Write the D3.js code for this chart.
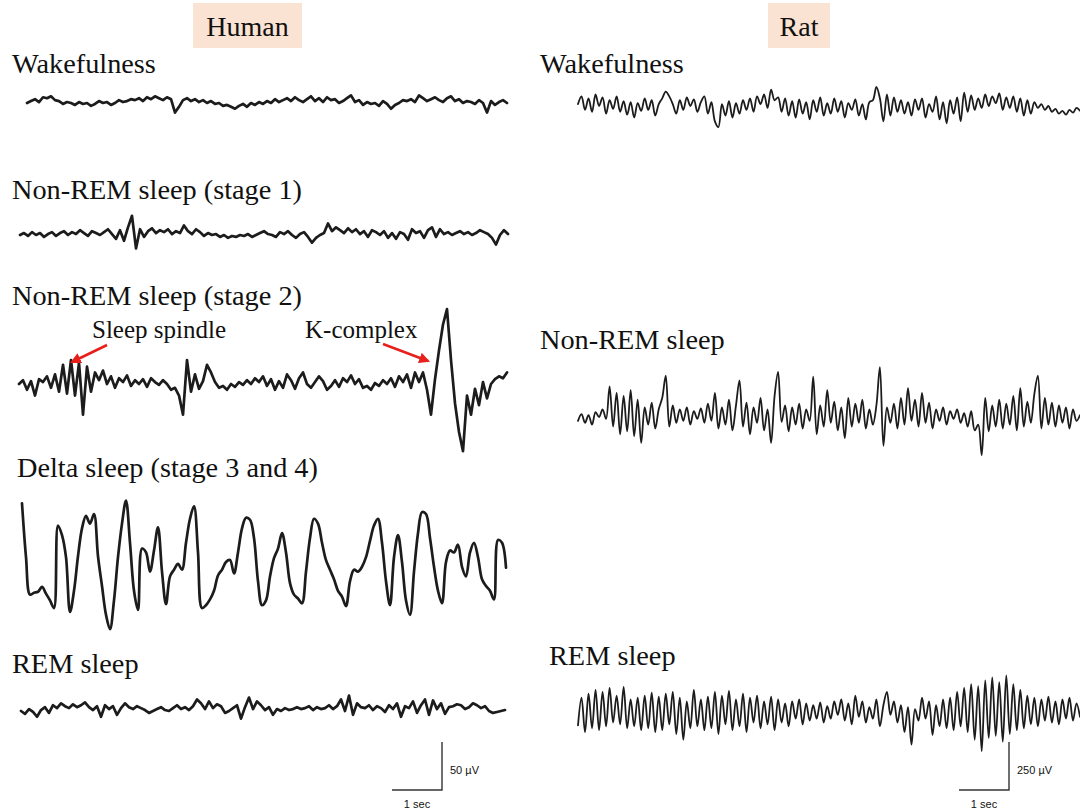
<!DOCTYPE html>
<html>
<head>
<meta charset="utf-8">
<script src="https://d3js.org/d3.v7.min.js"></script>
<style>
  body { margin: 0; background: #fff; }
  svg { display: block; }
</style>
</head>
<body>
<svg id="chart" width="1080" height="809"></svg>
<script>
// EEG traces, in µV (up is positive), equal time steps

// Human
var humanWake = [0, 2, 4, 1, 6, 5, 7, 3, 2, -1,
  1, 0, -2, 1, -1, 0, -3, -1, 2, 0,
  1, -2, 0, 3, 1, 2, 4, 3, 5, 2,
  6, 4, 7, 5, 3, 6, 4, -10, -4, 3,
  5, 2, 4, 1, 3, 0, 2, -1, 0, -3,
  -2, -4, -6, -3, -1, -4, 0, -2, 1, -1,
  2, 0, 4, 1, 3, 5, 2, 6, 3, 1,
  4, 7, 2, 5, 1, 6, 3, 4, 0, 2,
  5, 8, 1, 3, -2, 1, -1, 0, -3, 2,
  -1, -6, -2, 0, 3, 2, 4, 1, 8, 5,
  2, 4, 6, 3, 1, 5, 7, 2, 4, 0,
  2, 1, -1, 3, 0, -10, 2, -2, 1, 3, 0];

var humanStage1 = [0, 2, -1, 3, 0, 2, -2, 1, 3, -1,
  2, 4, 0, 3, 1, 5, 2, -1, 4, 2,
  0, 3, 6, 1, -4, 5, -6, 8, 20, -14,
  6, -2, 4, 7, 2, 5, 3, 6, 1, 4,
  2, 10, 4, 1, 6, 3, -1, 2, 0, 1,
  -2, 0, -3, -1, -2, 0, -1, 1, -2, 0,
  2, 4, 1, 0, -2, 3, 1, 4, 0, -3,
  1, 3, -2, -8, -3, 0, 2, 12, 4, 8,
  5, 2, 7, 3, 6, 1, 4, -2, 5, 3,
  0, 4, -3, 2, -4, 3, 1, -5, 6, 2,
  4, -3, 5, 8, -2, 6, 1, 3, 0, 2,
  4, 1, 3, 0, 2, 5, 3, 1, -3, -10, 0, 5, 1];

var humanStage2 = [0, 4, -6, 3, -12, 5, 2, 8, -4, 10,
  -8, 20, -10, 25, -12, 22, -32, 18, -8, 12,
  4, 14, 0, 8, -4, 6, 2, 9, -2, 4,
  0, 5, -3, 6, 2, -1, 4, 0, -6, -4,
  -12, -32, 25, -8, 10, -5, 3, 20, 12, 2,
  -4, -2, -6, 0, -3, 2, -1, 4, 0, 6,
  2, 8, -2, 5, -6, 3, -4, 10, 4, -5,
  6, 12, 0, -4, 2, 8, 3, -6, -2, 4,
  -3, 6, 2, 9, 0, 5, -4, -2, -6, 1,
  -2, 4, 0, 6, -3, 8, 2, 10, -4, 12,
  2, 12, -6, -32, 5, 35, 62, 78, 25, -20,
  -50, -70, -12, -32, -5, -22, 2, -15, 0, 5, 8, 6, 12];

var humanDelta = [61, 5, -34, -32, -31, -26, -33, -40, -48, 38,
  28, 5, -52, -30, 6, 35, 48, 40, 50, 6,
  -25, -55, -70, -40, 5, 40, 64, 20, -30, -50,
  14, 10, -10, 12, 36, -10, -44, -15, -8, -2,
  -8, 20, 45, 58, 10, -48, -45, -39, -30, -14,
  -8, 0, 2, -12, 10, 35, 46, 44, 25, -20,
  -45, -40, -15, 4, 14, 30, 10, -22, -34, -38,
  -43, -10, 25, 45, 40, 20, 2, -8, -18, -30,
  -36, -46, -20, -8, -10, -5, 5, 22, 38, 45,
  20, -20, -45, 5, 28, 0, -40, -55, -10, 30,
  52, 50, 25, -5, -30, -43, 0, 12, 10, 18,
  -5, -15, 10, 20, 5, -18, -25, -30, -39, 23, 20, -6];

var humanRem = [0, -3, 2, -1, -6, 1, 4, -2, 6, 3,
  8, 5, 3, 7, 4, 6, 9, 4, 1, 5,
  -6, 6, 2, 5, -4, 3, 8, 4, 2, 5,
  3, 1, -2, 0, 2, 4, 1, 0, 3, 6,
  2, 4, 1, 5, 12, 8, 2, 10, 3, 7,
  5, -2, 0, 3, 6, -8, 4, 14, 2, 10,
  6, 1, 4, -4, 2, 0, 3, 1, 2, 4,
  2, 3, 5, 1, 4, 2, 3, 6, 2, 5,
  12, 0, 16, -4, 8, 4, 3, 6, 1, 5,
  3, -1, 6, 2, 8, -6, 5, 3, 10, -2,
  6, 12, -4, 11, 2, 8, -3, 4, 5, 7,
  6, 2, 4, 8, 6, 3, 5, 0, -2, -1, 0, 1];

// Rat
var ratWake = [10, 50, -20, 40, -30, 60, 0, 45, -40, 30, -15, 50,
  -30, 25, -45, 20, -60, 15, -25, 40, -20, 30, -50, 10,
  40, 75, 50, 10, -40, 30, -20, 45, 0, 35, -30, 20,
  50, -40, 20, -80, -110, 10, -50, 25, -60, 15, -40, 30,
  -20, 40, -30, 50, 10, 60, -10, 85, 30, 45, -30, 40,
  -50, 25, -60, 35, -40, 20, -70, 30, -30, 45, -50, 15,
  -40, 40, -30, 25, -60, 15, -20, 35, -50, 10, -70, 20,
  30, 100, 40, -80, 60, -50, 45, -30, 30, -40, 20, -50,
  35, -20, 40, -60, 10, -30, 50, -70, 20, -90, 30, -40,
  45, -80, 70, -30, 55, -20, 40, -10, 60, 0, 50, 15,
  65, -20, 45, -10, 50, -30, 40, -50, 30, -40, 20, -10,
  10, -20, 0, -30, -15, -40, -25, -45, -20, -35, -10, -25];

var ratNrem = [-20, 15, -30, 10, -40, 25, 0, 40, -10, 160, -50, 125,
  -90, 110, -75, 140, -100, 90, -135, 50, -40, 75, -60, 40,
  100, 215, -50, 60, -30, 40, -20, 50, -40, 30, -10, 45,
  -30, 70, -20, 125, -60, 50, -40, 90, -70, 60, 190, -50,
  75, -90, 50, -30, 100, -70, 40, -135, 110, 235, -25, 60,
  -75, 50, -40, 70, -60, 40, -20, 210, -90, 60, -50, 140,
  -30, 80, -70, 50, -110, 100, -50, 70, -30, 90, -60, 40,
  -40, 60, 260, -150, 50, -30, 70, -60, 100, -40, 150, -20,
  90, -50, 125, -30, 75, -60, 40, -20, 50, -40, 30, -10,
  40, -30, 20, -50, 30, -70, -40, -200, 100, -75, 60, -50,
  90, -60, 70, -40, 110, -70, 150, -50, 80, -30, 120, 215,
  -60, 100, -40, 75, -50, 60, -30, 50, -60, 40, -20, 10];

var ratRem = [-75, 70, -110, 90, -90, 110, -100, 100, -80, 120, -60, 80,
  -70, 125, -90, 60, -80, 70, -100, 80, -90, 95, -110, 75,
  -100, 90, -70, 100, -120, 70, -150, 50, -90, 110, -80, 60,
  -100, 75, -90, 100, -120, 80, -70, 105, -100, 60, -80, 90,
  -110, 70, -60, 80, -90, 50, -70, 75, -100, 60, -60, 40,
  -80, 50, -40, 60, -70, 40, -50, 30, -40, 45, -60, 25,
  -40, 50, -20, 60, -50, 40, -70, 80, -30, 50, -60, 20,
  -40, 60, -80, 30, 100, -20, 50, -60, 30, -110, 20, -175,
  10, -50, 70, -40, 50, -125, 30, -80, 60, -90, 70, -100,
  100, -80, 120, -110, 140, -150, 130, -210, 160, -140, 175, -130,
  150, -160, 185, -120, 140, -100, 110, -90, 80, -70, 70, -80,
  60, -50, 75, -60, 50, -70, 60, -40, 70, -50, 40, -30];

var headers = ["Human", "Rat"];
var humanLabels = ["Wakefulness", "Non-REM sleep (stage 1)", "Non-REM sleep (stage 2)", "Delta sleep (stage 3 and 4)", "REM sleep"];
var ratLabels = ["Wakefulness", "Non-REM sleep", "REM sleep"];
var annotations = ["Sleep spindle", "K-complex"];
var scaleLabels = { human: "50 µV", rat: "250 µV", time: "1 sec" };

var svg = d3.select("#chart");
var serif = "'Liberation Serif', 'Times New Roman', serif";
var sans = "'Liberation Sans', Arial, sans-serif";

// amplitude scales: scale bar height is 48 px
var yHuman = d3.scaleLinear().domain([0, 50]).range([0, -48]);
var yRat = d3.scaleLinear().domain([0, 250]).range([0, -48]);

function trace(values, x0, x1, base, yScale, width, curve) {
  var x = d3.scaleLinear().domain([0, values.length - 1]).range([x0, x1]);
  var line = d3.line()
    .x(function(d, i) { return x(i); })
    .y(function(d) { return base + yScale(d); })
    .curve(curve || d3.curveLinear);
  svg.append("path")
    .datum(values)
    .attr("d", line)
    .attr("fill", "none")
    .attr("stroke", "#1c1c1c")
    .attr("stroke-width", width)
    .attr("stroke-linejoin", "round")
    .attr("stroke-linecap", "round");
}

function label(txt, x, y, size, font, anchor) {
  svg.append("text")
    .attr("x", x).attr("y", y)
    .attr("font-family", font || serif)
    .attr("font-size", size)
    .attr("text-anchor", anchor || "start")
    .attr("fill", "#111")
    .text(txt);
}

// header boxes
var headerBoxes = [[193, 109], [768, 62]];
headers.forEach(function(h, i) {
  var b = headerBoxes[i];
  svg.append("rect").attr("x", b[0]).attr("y", 3).attr("width", b[1]).attr("height", 45).attr("fill", "#fbe3d3");
  label(h, b[0] + b[1] / 2, 36, 28, serif, "middle");
});

// row labels
var humanLabelPos = [[12, 73], [12, 199], [12, 305], [17, 477], [12, 673]];
humanLabels.forEach(function(t, i) { label(t, humanLabelPos[i][0], humanLabelPos[i][1], 28.3); });
var ratLabelPos = [[540, 73], [540, 349], [549, 665]];
ratLabels.forEach(function(t, i) { label(t, ratLabelPos[i][0], ratLabelPos[i][1], 28.3); });

// human traces
trace(humanWake, 27, 507, 103, yHuman, 2.7);
trace(humanStage1, 20, 508, 235, yHuman, 2.7);
trace(humanStage2, 19, 507, 384, yHuman, 2.7);
trace(humanDelta, 22, 506, 562, yHuman, 2.7, d3.curveCatmullRom);
trace(humanRem, 21, 505, 711, yHuman, 2.7);

// rat traces
trace(ratWake, 578, 1080, 106, yRat, 1.8, d3.curveCatmullRom);
trace(ratNrem, 578, 1080, 417, yRat, 1.8, d3.curveCatmullRom);
trace(ratRem, 578, 1080, 711, yRat, 1.8, d3.curveCatmullRom);

// annotations with red arrows
label(annotations[0], 92, 338, 25);
label(annotations[1], 305, 338, 25);
var red = "#e8201c";
svg.append("defs").append("marker")
  .attr("id", "head").attr("viewBox", "0 0 10 10")
  .attr("refX", 8).attr("refY", 5)
  .attr("markerWidth", 4.2).attr("markerHeight", 4.2)
  .attr("orient", "auto-start-reverse")
  .append("path").attr("d", "M0,0 L10,5 L0,10 z").attr("fill", red);
[[107, 345, 72, 362], [383, 344, 428, 361]].forEach(function(a) {
  svg.append("line")
    .attr("x1", a[0]).attr("y1", a[1]).attr("x2", a[2]).attr("y2", a[3])
    .attr("stroke", red).attr("stroke-width", 2.6)
    .attr("marker-end", "url(#head)");
});

// scale bars
function scaleBar(xr, yScale, amp, txt) {
  var top = 790 + yScale(amp);
  svg.append("path")
    .attr("d", "M" + (xr - 50) + ",790 H" + xr + " V" + top)
    .attr("fill", "none").attr("stroke", "#333").attr("stroke-width", 1.4);
  label(txt, xr + 8, 774, 11, sans);
  label(scaleLabels.time, xr - 25, 808, 11, sans, "middle");
}
scaleBar(442, yHuman, 50, scaleLabels.human);
scaleBar(1009, yRat, 250, scaleLabels.rat);
</script>
</body>
</html>
